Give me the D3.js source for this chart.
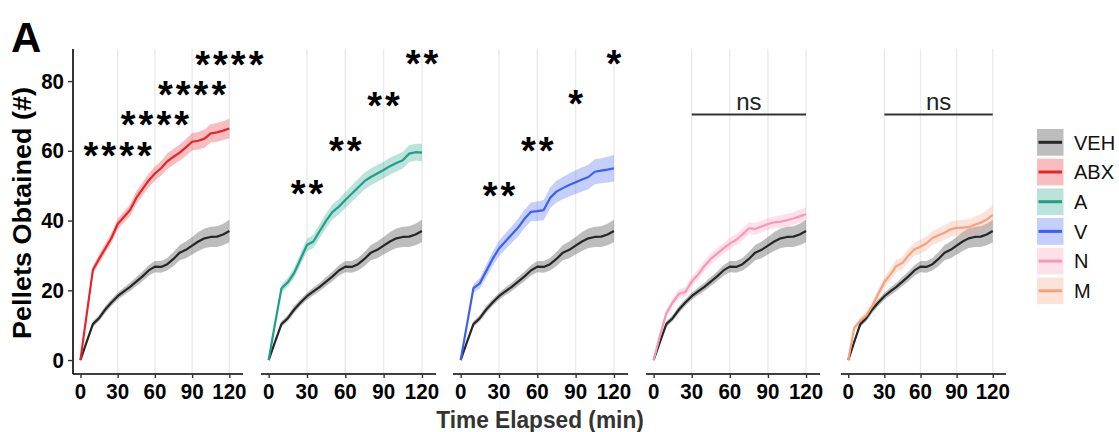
<!DOCTYPE html>
<html>
<head>
<meta charset="utf-8">
<script src="https://cdn.jsdelivr.net/npm/d3@7"></script>
<style>
  body { margin: 0; background: #fff; }
  svg text { font-family: "Liberation Sans", Arial, sans-serif; }
</style>
</head>
<body>
<div id="chart"></div>
<script>
// time points (min)
var times = [0, 5, 10, 15, 20, 25, 30, 35, 40, 45, 50, 55, 60, 65, 70, 75, 80, 85, 90, 95, 100, 105, 110, 115, 120];

// mean pellets and SEM per group
var vehMean = [0, 5.2, 10.3, 12, 14.5, 16.5, 18.3, 19.7, 21, 22.5, 24, 25.7, 26.8, 26.7, 27.5, 29, 30.8, 31.6, 32.8, 34, 34.9, 35.3, 35.4, 36, 37];
var vehSe = [0, 0.5, 0.8, 0.9, 1.0, 1.0, 1.0, 1.1, 1.2, 1.3, 1.4, 1.5, 1.6, 1.7, 1.8, 2.0, 2.2, 2.4, 2.5, 2.7, 2.8, 2.9, 3.0, 3.1, 3.2];
var abxMean = [0, 13, 25.8, 29, 32, 35, 39, 41, 43, 46.5, 49, 51.5, 53.5, 55, 57, 58.3, 59.5, 61, 62.6, 62.9, 63.5, 65, 65.3, 65.8, 66.4];
var abxSe = [0, 0.8, 1.2, 1.3, 1.4, 1.5, 1.5, 1.6, 1.7, 1.8, 1.9, 2.0, 2.0, 2.1, 2.2, 2.3, 2.3, 2.4, 2.5, 2.5, 2.6, 2.6, 2.7, 2.7, 2.8];
var aMean = [0, 10.5, 20.5, 22.3, 25, 29, 33, 34, 37, 40, 42.5, 44, 45.9, 47.7, 49.5, 51.3, 52.5, 53.5, 54.5, 55.6, 56.5, 57.3, 59.2, 59.6, 59.5];
var aSe = [0, 0.7, 1.1, 1.3, 1.5, 1.7, 1.8, 1.9, 2.0, 2.1, 2.2, 2.2, 2.3, 2.3, 2.4, 2.4, 2.4, 2.4, 2.4, 2.4, 2.4, 2.4, 2.4, 2.4, 2.5];
var vMean = [0, 10.3, 20.6, 22, 25.5, 29, 32, 34, 36, 38, 40.5, 42.5, 42.7, 43, 46.5, 48.3, 49.3, 50.2, 51, 51.8, 52.5, 54, 54.3, 54.6, 55];
var vSe = [0, 0.7, 1.2, 1.5, 1.8, 2.0, 2.2, 2.3, 2.4, 2.5, 2.6, 2.7, 2.8, 2.9, 3.0, 3.1, 3.2, 3.3, 3.4, 3.5, 3.5, 3.6, 3.6, 3.7, 3.8];
var nMean = [0, 7, 13.4, 16.5, 19, 19.5, 22.5, 24.5, 27, 29, 30.5, 32, 33.4, 34.5, 36, 37.8, 37.6, 38.3, 39, 39.5, 39.7, 40.1, 40.6, 41.2, 41.8];
var nSe = [0, 0.6, 1.0, 1.2, 1.3, 1.4, 1.4, 1.5, 1.5, 1.5, 1.6, 1.6, 1.6, 1.6, 1.7, 1.7, 1.7, 1.7, 1.7, 1.7, 1.8, 1.8, 1.8, 1.9, 2.0];
var mMean = [0, 9.2, 11.3, 12.8, 15.5, 19, 22.3, 24.5, 27, 27.8, 30, 31.8, 32.5, 33.5, 35, 35.8, 36.5, 37.5, 37.9, 38, 38.1, 38.8, 39.4, 40.3, 41.6];
var mSe = [0, 0.7, 1.0, 1.2, 1.4, 1.5, 1.6, 1.7, 1.8, 1.8, 1.9, 1.9, 2.0, 2.0, 2.0, 2.1, 2.1, 2.2, 2.2, 2.2, 2.3, 2.3, 2.4, 2.6, 2.9];

var groups = ["VEH", "ABX", "A", "V", "N", "M"];
var xTicks = [0, 30, 60, 90, 120];
var yTicks = [0, 20, 40, 60, 80];

// significance labels per panel (time, label, y value)
var sigTimes = [30, 60, 90, 120];
var abxSig = ["****", "****", "****", "****"], abxSigY = [61.2, 70, 78.6, 87.2];
var aSig = ["**", "**", "**", "**"], aSigY = [50.2, 62.6, 75.5, 87.5];
var vSig = ["**", "**", "*", "*"], vSigY = [49.7, 62.6, 76, 87.5];
var nsRange = [30, 120], nsY = 70.4;

var colors = { VEH: "#262626", ABX: "#e3262a", A: "#1fa088", V: "#3d60f2", N: "#f898b9", M: "#f4a280" };
var fills = { VEH: "#000000", ABX: "#e3262a", A: "#1fa088", V: "#3d60f2", N: "#f898b9", M: "#f4a280" };
var fillOp = { VEH: 0.26, ABX: 0.3, A: 0.3, V: 0.3, N: 0.3, M: 0.3 };

var series = {
    VEH: { mean: vehMean, se: vehSe },
    ABX: { mean: abxMean, se: abxSe },
    A: { mean: aMean, se: aSe },
    V: { mean: vMean, se: vSe },
    N: { mean: nMean, se: nSe },
    M: { mean: mMean, se: mSe }
};

var panels = [
    { g: "ABX", x0: 73, x1: 243, sig: abxSig, sigY: abxSigY },
    { g: "A", x0: 261, x1: 436, sig: aSig, sigY: aSigY },
    { g: "V", x0: 453, x1: 628, sig: vSig, sigY: vSigY },
    { g: "N", x0: 646, x1: 820, ns: true },
    { g: "M", x0: 841, x1: 1006, ns: true }
];

var W = 1119, H = 432, plotTop = 49, plotBottom = 374, sy = 1.08;
var font = '"Liberation Sans", Arial, sans-serif';

var svg = d3.select("#chart").append("svg").attr("width", W).attr("height", H);

var y = d3.scaleLinear().domain([-4.0, 89.2]).range([plotBottom, plotTop]);

function label(parent, x, yy, s, size, weight, anchor, rot) {
    var t = "translate(" + x + "," + yy + ") scale(1," + sy + ")" + (rot ? " rotate(" + rot + ")" : "");
    return parent.append("g").attr("transform", t).append("text")
        .attr("text-anchor", anchor || "middle")
        .style("font-size", size + "px")
        .style("font-weight", weight)
        .attr("fill", "#000")
        .text(s);
}

function rows(name) {
    var s = series[name];
    return times.map(function (t, i) { return { t: t, m: s.mean[i], se: s.se[i] }; });
}

panels.forEach(function (p, pi) {
    var x = d3.scaleLinear().domain([-6, 131]).range([p.x0, p.x1]);
    var g = svg.append("g");

    // vertical grid
    g.selectAll(".grid").data([30, 60, 90, 120]).enter().append("line")
        .attr("x1", function (d) { return x(d); }).attr("x2", function (d) { return x(d); })
        .attr("y1", plotTop).attr("y2", plotBottom)
        .style("stroke", "#ebebeb").style("stroke-width", 1.4);

    var area = d3.area()
        .x(function (d) { return x(d.t); })
        .y0(function (d) { return y(d.m - d.se); })
        .y1(function (d) { return y(d.m + d.se); });
    var line = d3.line()
        .x(function (d) { return x(d.t); })
        .y(function (d) { return y(d.m); });

    ["VEH", p.g].forEach(function (k) {
        g.append("path").attr("d", area(rows(k)))
            .style("fill", fills[k]).style("fill-opacity", fillOp[k]).style("stroke", "none");
    });
    ["VEH", p.g].forEach(function (k) {
        g.append("path").attr("d", line(rows(k)))
            .style("fill", "none").style("stroke", colors[k]).style("stroke-width", 2.2)
            .style("stroke-linejoin", "round");
    });

    // x axis
    var xa = g.append("g").attr("transform", "translate(0," + plotBottom + ")")
        .call(d3.axisBottom(x).tickValues(xTicks).tickSize(4).tickSizeOuter(0).tickFormat(""));
    xa.select(".domain").attr("d", "M" + p.x0 + ",0H" + p.x1).style("stroke", "#000").style("stroke-width", 1.6);
    xa.selectAll(".tick line").style("stroke", "#333").style("stroke-width", 1.4);
    xTicks.forEach(function (t) { label(g, x(t), plotBottom + 25, t, 20.5, "bold"); });

    if (pi === 0) {
        var ya = g.append("g").attr("transform", "translate(" + p.x0 + ",0)")
            .call(d3.axisLeft(y).tickValues(yTicks).tickSize(5).tickSizeOuter(0).tickFormat(""));
        ya.select(".domain").attr("d", "M0," + plotTop + "V" + plotBottom).style("stroke", "#000").style("stroke-width", 1.6);
        ya.selectAll(".tick line").style("stroke", "#333").style("stroke-width", 1.4);
        yTicks.forEach(function (v) { label(g, p.x0 - 9, y(v) + 7.5, v, 20.5, "bold", "end"); });
    }

    if (p.sig) {
        sigTimes.forEach(function (t, i) {
            g.append("text")
                .attr("x", x(t) + 1.5).attr("y", y(p.sigY[i]) + 22)
                .attr("text-anchor", "middle")
                .style("font-size", "38px")
                .style("font-weight", "bold")
                .style("letter-spacing", "3px")
                .style("font-family", font)
                .text(p.sig[i]);
        });
    }
    if (p.ns) {
        g.append("line")
            .attr("x1", x(nsRange[0])).attr("x2", x(nsRange[1]))
            .attr("y1", y(nsY)).attr("y2", y(nsY))
            .style("stroke", "#333").style("stroke-width", 2);
        g.append("text")
            .attr("x", x((nsRange[0] + nsRange[1]) / 2)).attr("y", y(nsY) - 5)
            .attr("text-anchor", "middle")
            .style("font-size", "24px")
            .attr("fill", "#222")
            .text("ns");
    }
});

// axis titles
label(svg, 540, 427.5, "Time Elapsed (min)", 22.7, "bold").attr("fill", "#333");
label(svg, 31, 213, "Pellets Obtained (#)", 25, "bold", "middle", -90);

// panel tag
svg.append("text").attr("x", 11).attr("y", 52)
    .style("font-size", "42px").style("font-weight", "bold").text("A");

// legend
var leg = svg.append("g").attr("transform", "translate(1037,129)");
var item = leg.selectAll(".item").data(groups).enter().append("g")
    .attr("transform", function (d, i) { return "translate(0," + (i * 29.7) + ")"; });
item.append("rect").attr("width", 26.5).attr("height", 26.7)
    .style("fill", function (d) { return fills[d]; })
    .style("fill-opacity", function (d) { return fillOp[d]; });
item.append("line").attr("x1", 1.5).attr("x2", 25).attr("y1", 13.3).attr("y2", 13.3)
    .style("stroke", function (d) { return colors[d]; }).style("stroke-width", 3);
item.append("text").attr("x", 37).attr("y", 13.3).attr("dy", "0.36em")
    .style("font-size", "20px").attr("fill", "#111")
    .text(function (d) { return d; });
</script>
</body>
</html>
